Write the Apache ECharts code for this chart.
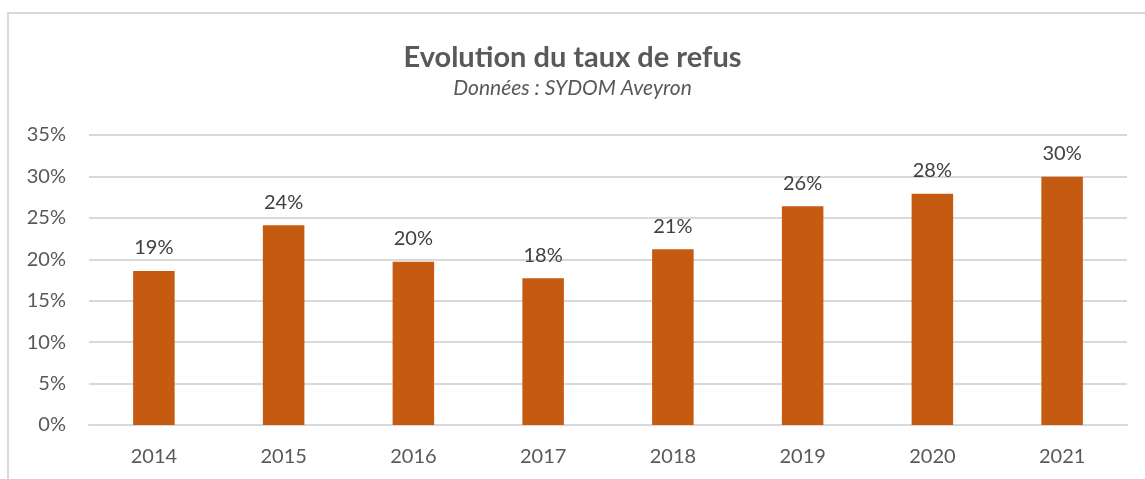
<!DOCTYPE html>
<html>
<head>
<meta charset="utf-8">
<script src="https://cdn.jsdelivr.net/npm/echarts@6/dist/echarts.min.js"></script>
<style>
  html, body { margin: 0; padding: 0; background: #fff; }
  #chart { width: 1145px; height: 479px; }
</style>
</head>
<body>
<div id="chart"></div>
<script>
const years = ['2014', '2015', '2016', '2017', '2018', '2019', '2020', '2021'];
const refusRate = [18.6, 24.1, 19.7, 17.7, 21.2, 26.4, 27.9, 29.95];
const yTicks = [0, 5, 10, 15, 20, 25, 30, 35];

const chart = echarts.init(document.getElementById('chart'), null, { renderer: 'canvas' });

const option = {
  backgroundColor: '#fff',
  animation: false,
  title: {
    text: 'Evolution du taux de refus',
    subtext: 'Données : SYDOM Aveyron',
    left: 'center',
    top: 38,
    itemGap: 6,
    textStyle: {
      fontFamily: 'Lato',
      fontWeight: 'bold',
      fontSize: 29,
      color: '#595959',
    },
    subtextStyle: {
      fontFamily: 'Lato',
      fontStyle: 'italic',
      fontSize: 21,
      color: '#595959',
    },
  },
  graphic: [{
    type: 'rect',
    shape: { x: 8, y: 13, width: 1200, height: 500 },
    style: { fill: 'none', stroke: '#d9d9d9', lineWidth: 2 },
    silent: true,
  }],
  grid: {
    left: 89,
    right: 18,
    top: 135,
    bottom: 54,
  },
  xAxis: {
    type: 'category',
    data: years,
    axisLine: { lineStyle: { color: '#d9d9d9', width: 2 } },
    axisTick: { show: false },
    axisLabel: {
      fontFamily: 'Lato',
      fontSize: 20,
      color: '#595959',
      margin: 22,
    },
  },
  yAxis: {
    type: 'value',
    min: yTicks[0],
    max: yTicks[yTicks.length - 1],
    interval: 5,
    axisLine: { show: false },
    axisTick: { show: false },
    splitLine: { lineStyle: { color: '#d9d9d9', width: 2 } },
    axisLabel: {
      fontFamily: 'Lato',
      fontSize: 20,
      color: '#595959',
      margin: 23,
      formatter: v => v + '%',
    },
  },
  series: [{
    type: 'bar',
    data: refusRate,
    barWidth: '32%',
    itemStyle: { color: '#C55A11' },
    label: {
      show: true,
      position: 'top',
      distance: 13,
      fontFamily: 'Lato',
      fontSize: 20,
      color: '#404040',
      formatter: p => Math.round(p.value) + '%',
    },
  }],
};

chart.setOption(option);
</script>
</body>
</html>
